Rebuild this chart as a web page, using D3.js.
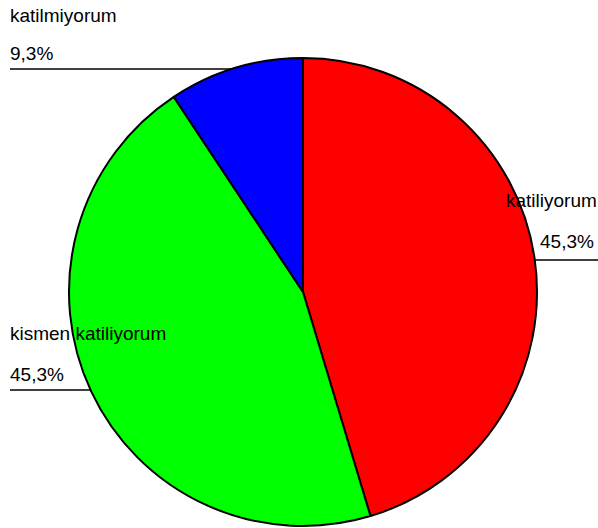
<!DOCTYPE html>
<html><head><meta charset="utf-8">
<script src="https://cdn.jsdelivr.net/npm/d3@7"></script>
<style>body{margin:0;background:#fff}svg{display:block}</style>
</head><body>
<script>
const categories = ["katiliyorum", "kismen katiliyorum", "katilmiyorum"];
const values = [45.3, 45.3, 9.3];
const valueLabels = ["45,3%", "45,3%", "9,3%"];
const colors = ["#ff0000", "#00ff00", "#0000ff"];

const W = 598, H = 528;
const cx = 303, cy = 292, R = 234;
const svg = d3.select("body").append("svg").attr("width", W).attr("height", H);

// label layout: [text x, name baseline, value x, value baseline, line y, line side]
const layout = [
  {nx: 506, ny: 207, vx: 540, vy: 248, ly: 260, side: "right"},
  {nx: 10, ny: 340, vx: 10, vy: 381, ly: 390, side: "left"},
  {nx: 10, ny: 22, vx: 10, vy: 60, ly: 69, side: "left"}
];

const pie = d3.pie().value(d => d).sort(null);
const arcs = pie(values);
const arc = d3.arc().innerRadius(0).outerRadius(R);

// leader lines (drawn behind pie)
const lines = svg.append("g");
layout.forEach((l, i) => {
  const dy = l.ly - cy;
  const dx = Math.sqrt(Math.max(0, R * R - dy * dy));
  const x1 = l.side === "right" ? cx + dx : 10;
  const x2 = l.side === "right" ? W : cx - dx;
  lines.append("line").attr("x1", x1).attr("x2", x2).attr("y1", l.ly).attr("y2", l.ly)
    .attr("stroke", "#000").attr("stroke-width", 1.5);
});

svg.append("g").attr("transform", `translate(${cx},${cy})`)
  .selectAll("path").data(arcs).join("path")
  .attr("d", arc)
  .attr("fill", (d, i) => colors[i])
  .attr("stroke", "#000").attr("stroke-width", 2).attr("stroke-linejoin", "round");

const tg = svg.append("g").attr("font-family", "Liberation Sans, Arial, sans-serif")
  .attr("font-size", 19).attr("fill", "#000");
layout.forEach((l, i) => {
  tg.append("text").attr("x", l.nx).attr("y", l.ny).text(categories[i]);
  tg.append("text").attr("x", l.vx).attr("y", l.vy).text(valueLabels[i]);
});
</script>
</body></html>
